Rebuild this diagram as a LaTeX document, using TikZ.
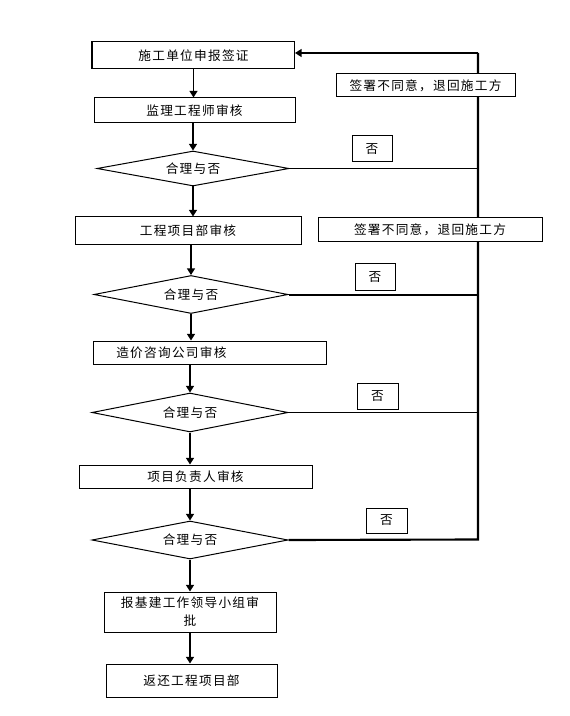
\documentclass[tikz,border=0pt]{standalone}
\usepackage{fontspec}
\newfontfamily\cjk{Noto Sans CJK SC}[LetterSpace=10]
\usetikzlibrary{arrows.meta,shapes.geometric}
\begin{document}
\begin{tikzpicture}[x=0.75pt,y=-0.75pt,
  font=\cjk\fontsize{9.5pt}{13.5pt}\selectfont,
  box/.style={draw,fill=white,line width=0.75pt,inner sep=0pt,align=center},
  dec/.style={shape=diamond,draw,fill=white,line width=0.75pt,inner sep=0pt,aspect=5},
  arr/.style={line width=1.1pt,-{Triangle[length=5pt,width=6pt]}},
  ret/.style={line width=1.1pt},
  back/.style={line width=1.6pt}]
\useasboundingbox (0,0) rectangle (569,716);

% feedback coordinates on the right-hand return line
\coordinate (top) at (478,53);
\coordinate (bot) at (478,539.5);

% main chain
\node[box,minimum width={202*0.75pt},minimum height={27*0.75pt}] (b1) at (193.5,55.5) {施工单位申报签证};
\node[box,minimum width={201*0.75pt},minimum height={25*0.75pt}] (b2) at (194.5,110.5) {监理工程师审核};
\node[dec,minimum width={192*0.75pt},minimum height={35*0.75pt}] (d1) at (193,168.5) {合理与否};
\node[box,minimum width={226*0.75pt},minimum height={28*0.75pt}] (b3) at (188,231) {工程项目部审核};
\node[dec,minimum width={194*0.75pt},minimum height={38*0.75pt}] (d2) at (191,294.5) {合理与否};
\node[box,minimum width={233*0.75pt},minimum height={23*0.75pt}] (b4) at (209.5,352.5) {};
\node[anchor=west,inner sep=0pt] (t4) at (116,352.5) {造价咨询公司审核};
\node[dec,minimum width={196*0.75pt},minimum height={39*0.75pt}] (d3) at (190,412.5) {合理与否};
\node[box,minimum width={233*0.75pt},minimum height={23*0.75pt}] (b5) at (195.5,476.5) {项目负责人审核};
\node[dec,minimum width={196*0.75pt},minimum height={38*0.75pt}] (d4) at (190,540) {合理与否};
\node[box,minimum width={172*0.75pt},minimum height={40*0.75pt}] (b6) at (190,612) {报基建工作领导小组审\\批};
\node[box,minimum width={171*0.75pt},minimum height={33*0.75pt}] (b7) at (191.5,680.5) {返还工程项目部};

% thick left edge of the first box
\draw[line width=1.8pt] (b1.north west) -- (b1.south west);

% downward arrows
\draw[arr] (b1.south) -- (b1.south |- b2.north);
\draw[arr] (b2.south -| d1.north) -- (d1.north);
\draw[arr] (d1.south) -- (d1.south |- b3.north);
\draw[arr] (b3.south -| d2.north) -- (d2.north);
\draw[arr] (d2.south) -- (d2.south |- b4.north);
\draw[arr] (b4.south -| d3.north) -- (d3.north);
\draw[arr] (d3.south) -- (d3.south |- b5.north);
\draw[arr] (b5.south -| d4.north) -- (d4.north);
\draw[arr] (d4.south) -- (b6.north);
\draw[arr] (b6.south) -- (b6.south |- b7.north);

% return path back to the first box
\draw[back] (d4.east) -- (bot) -- (top);
\draw[ret,-{Triangle[length=5pt,width=6pt]}] (top) -- (top -| b1.east);
\draw[line width=0.9pt] (d1.east) -- (d1.east -| top);
\draw[line width=1.5pt] (d2.east) -- (d2.east -| top);
\draw[line width=0.9pt] (d3.east) -- (d3.east -| top);

% refusal notes on the return line
\node[box,minimum width={179*0.75pt},minimum height={23*0.75pt}] (r1) at (425.5,85.5) {签署不同意，退回施工方};
\node[box,minimum width={224*0.75pt},minimum height={24*0.75pt}] (r2) at (430,230) {签署不同意，退回施工方};

% "no" labels
\node[box,minimum width={40*0.75pt},minimum height={26*0.75pt}] (n1) at (372,149) {否};
\node[box,minimum width={40*0.75pt},minimum height={26*0.75pt}] (n2) at (375,277) {否};
\node[box,minimum width={41*0.75pt},minimum height={26*0.75pt}] (n3) at (377.5,396) {否};
\node[box,minimum width={41*0.75pt},minimum height={25*0.75pt}] (n4) at (386.5,520.5) {否};
\end{tikzpicture}
\end{document}
